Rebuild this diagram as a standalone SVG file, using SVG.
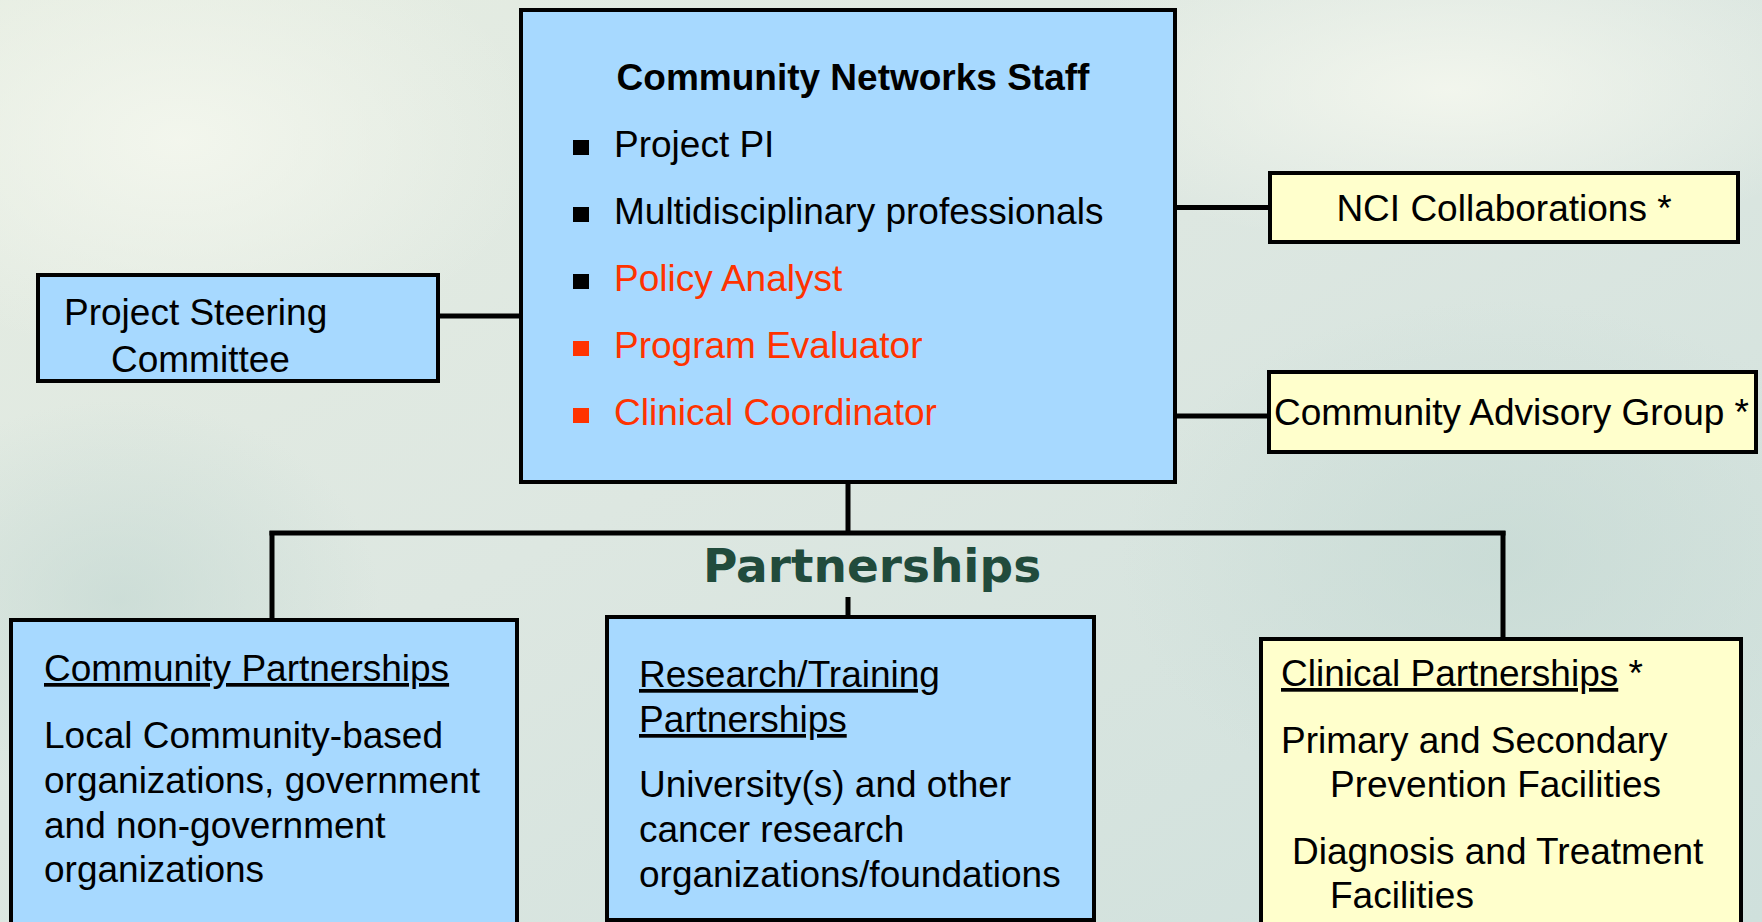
<svg xmlns="http://www.w3.org/2000/svg" width="1762" height="922" viewBox="0 0 1762 922">
  <defs>
    <linearGradient id="bg" x1="0" y1="0" x2="1" y2="1">
      <stop offset="0" stop-color="#E6EDE2"/>
      <stop offset="0.45" stop-color="#DDE7E1"/>
      <stop offset="1" stop-color="#CFE0DC"/>
    </linearGradient>
    <radialGradient id="glow1" cx="0.5" cy="0.5" r="0.5">
      <stop offset="0" stop-color="#F4F7EE" stop-opacity="0.9"/>
      <stop offset="1" stop-color="#F4F7EE" stop-opacity="0"/>
    </radialGradient>
    <radialGradient id="glow2" cx="0.5" cy="0.5" r="0.5">
      <stop offset="0" stop-color="#C5D9D3" stop-opacity="0.7"/>
      <stop offset="1" stop-color="#C5D9D3" stop-opacity="0"/>
    </radialGradient>
  </defs>
  <style>
    .box { stroke: #000; stroke-width: 4; }
    .blue { fill: #A7D9FF; }
    .yellow { fill: #FFFFCC; }
    .txt { font-family: "Liberation Sans", Arial, sans-serif; font-size: 37px; fill: #000; }
    .title { font-family: "Liberation Sans", Arial, sans-serif; font-size: 37px; font-weight: bold; fill: #000; }
    .red { fill: #FF3300; }
    .ul { text-decoration: underline; }
    .conn { stroke: #000; stroke-width: 5; fill: none; }
    .heading { font-family: "DejaVu Sans", Verdana, sans-serif; font-size: 47px; font-weight: bold; fill: #214B3C; }
  </style>

  <!-- background wash -->
  <rect x="0" y="0" width="1762" height="922" fill="url(#bg)"/>
  <ellipse cx="180" cy="140" rx="360" ry="220" fill="url(#glow1)"/>
  <ellipse cx="1450" cy="90" rx="420" ry="160" fill="url(#glow1)"/>
  <ellipse cx="1500" cy="560" rx="380" ry="260" fill="url(#glow2)"/>
  <ellipse cx="120" cy="600" rx="260" ry="200" fill="url(#glow2)"/>

  <!-- connectors -->
  <g id="connectors">
    <line class="conn" x1="438" y1="316" x2="521" y2="316"/>
    <line class="conn" x1="1175" y1="207.5" x2="1270" y2="207.5"/>
    <line class="conn" x1="1175" y1="416" x2="1269" y2="416"/>
    <line class="conn" x1="848" y1="483" x2="848" y2="533"/>
    <line class="conn" x1="269.5" y1="533" x2="1505.5" y2="533"/>
    <line class="conn" x1="272" y1="531" x2="272" y2="620"/>
    <line class="conn" x1="1503" y1="531" x2="1503" y2="639"/>
    <line class="conn" x1="848" y1="597" x2="848" y2="617"/>
  </g>

  <!-- central staff box -->
  <g id="staff">
    <rect class="box blue" x="521" y="10" width="654" height="472"/>
    <text class="title" x="853" y="90" text-anchor="middle">Community Networks Staff</text>
    <rect x="573" y="140" width="16" height="15" fill="#000"/>
    <text class="txt" x="614" y="157">Project PI</text>
    <rect x="573" y="207" width="16" height="15" fill="#000"/>
    <text class="txt" x="614" y="224">Multidisciplinary professionals</text>
    <rect x="573" y="274" width="16" height="15" fill="#000"/>
    <text class="txt red" x="614" y="291">Policy Analyst</text>
    <rect x="573" y="341" width="16" height="15" fill="#FF3300"/>
    <text class="txt red" x="614" y="358">Program Evaluator</text>
    <rect x="573" y="408" width="16" height="15" fill="#FF3300"/>
    <text class="txt red" x="614" y="425">Clinical Coordinator</text>
  </g>

  <!-- steering committee -->
  <g id="steering">
    <rect class="box blue" x="38" y="275" width="400" height="106"/>
    <text class="txt" x="64" y="325">Project Steering</text>
    <text class="txt" x="111" y="372">Committee</text>
  </g>

  <!-- NCI collaborations -->
  <g id="nci">
    <rect class="box yellow" x="1270" y="173" width="468" height="69"/>
    <text class="txt" x="1504" y="221" text-anchor="middle">NCI Collaborations *</text>
  </g>

  <!-- community advisory group -->
  <g id="advisory">
    <rect class="box yellow" x="1269" y="372" width="487" height="80"/>
    <text class="txt" x="1274" y="425">Community Advisory Group *</text>
  </g>

  <!-- partnerships heading -->
  <g id="partnerships-label">
    <text class="heading" x="872" y="582" text-anchor="middle">Partnerships</text>
  </g>

  <!-- community partnerships -->
  <g id="community">
    <rect class="box blue" x="11" y="620" width="506" height="320"/>
    <text class="txt" x="44" y="681"><tspan class="ul">Community Partnerships</tspan></text>
    <text class="txt" x="44" y="748">Local Community-based</text>
    <text class="txt" x="44" y="793">organizations, government</text>
    <text class="txt" x="44" y="838">and non-government</text>
    <text class="txt" x="44" y="882">organizations</text>
  </g>

  <!-- research/training partnerships -->
  <g id="research">
    <rect class="box blue" x="607" y="617" width="487" height="303"/>
    <text class="txt" x="639" y="687"><tspan class="ul">Research/Training</tspan></text>
    <text class="txt" x="639" y="732"><tspan class="ul">Partnerships</tspan></text>
    <text class="txt" x="639" y="797">University(s) and other</text>
    <text class="txt" x="639" y="842">cancer research</text>
    <text class="txt" x="639" y="887">organizations/foundations</text>
  </g>

  <!-- clinical partnerships -->
  <g id="clinical">
    <rect class="box yellow" x="1261" y="639" width="480" height="300"/>
    <text class="txt" x="1281" y="686"><tspan class="ul">Clinical Partnerships</tspan> *</text>
    <text class="txt" x="1281" y="753">Primary and Secondary</text>
    <text class="txt" x="1330" y="797">Prevention Facilities</text>
    <text class="txt" x="1292" y="864">Diagnosis and Treatment</text>
    <text class="txt" x="1330" y="908">Facilities</text>
  </g>
</svg>
